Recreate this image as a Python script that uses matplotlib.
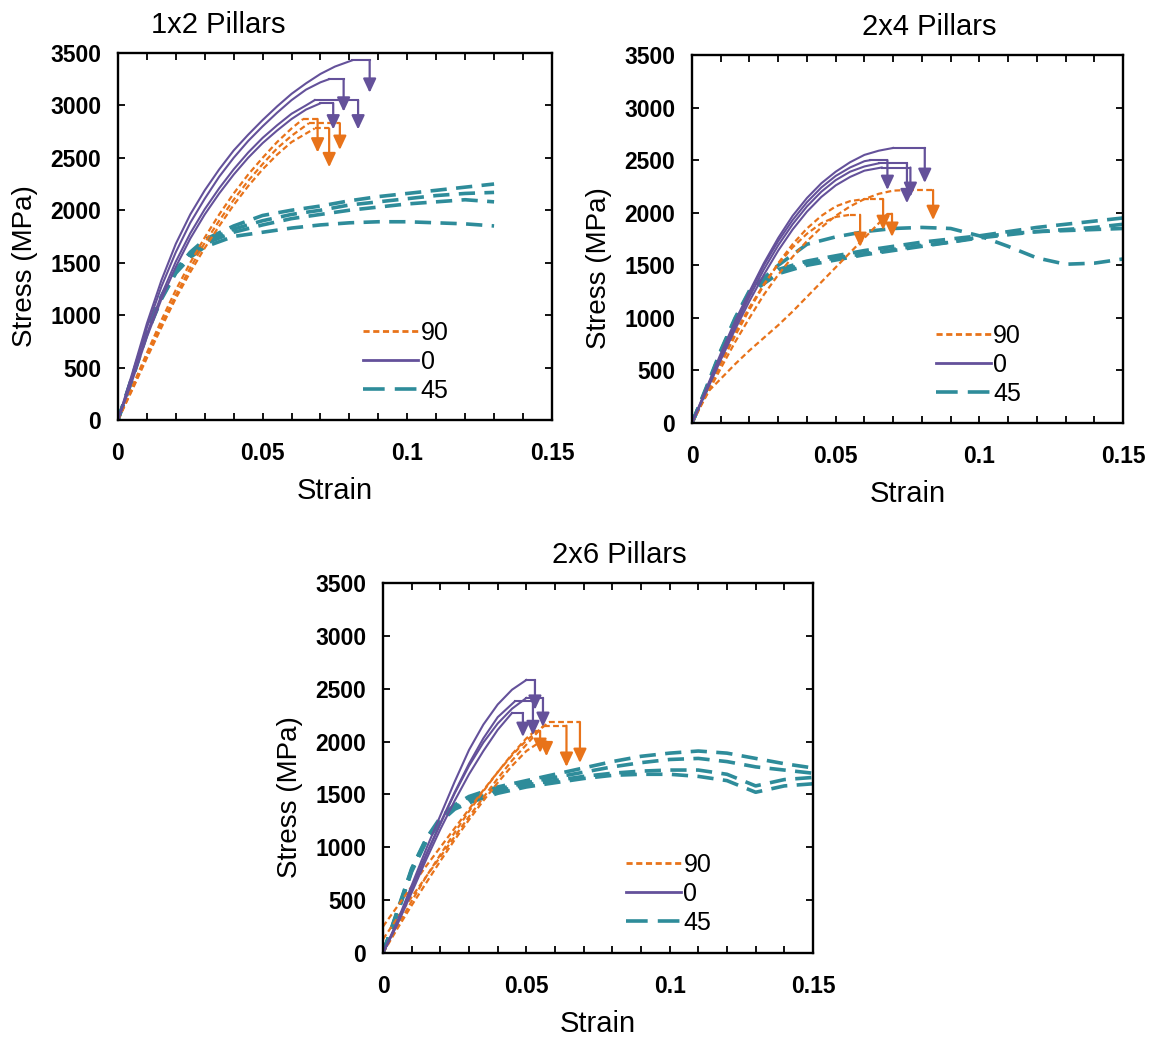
import matplotlib
matplotlib.use("Agg")
import matplotlib.pyplot as plt
from matplotlib.lines import Line2D

plt.rcParams['font.family'] = ['Liberation Sans', 'DejaVu Sans']

C90 = '#E8731A'
C0 = '#64519A'
C45 = '#2E8C9A'

# ---------------- 1x2 Pillars ----------------
# 0 deg (solid purple): strain, stress, then drop arrow (x, end stress)
p1_0a_x = [0, .005, .01, .015, .02, .025, .03, .035, .04, .045, .05, .055, .06, .065, .07, .075, .081]
p1_0a_y = [0, 450, 920, 1330, 1680, 1960, 2190, 2390, 2570, 2720, 2860, 2990, 3110, 3210, 3300, 3370, 3430]
p1_0b_x = [0, .005, .01, .015, .02, .025, .03, .035, .04, .045, .05, .055, .06, .065, .07, .073]
p1_0b_y = [0, 430, 880, 1270, 1600, 1880, 2110, 2320, 2500, 2660, 2800, 2930, 3050, 3150, 3220, 3250]
p1_0c_x = [0, .005, .01, .015, .02, .025, .03, .035, .04, .045, .05, .055, .06, .065, .068]
p1_0c_y = [0, 400, 820, 1190, 1510, 1780, 2010, 2210, 2390, 2550, 2690, 2810, 2920, 3000, 3050]
p1_0d_x = [0, .005, .01, .015, .02, .025, .03, .035, .04, .045, .05, .055, .06, .065, .07]
p1_0d_y = [0, 380, 790, 1150, 1460, 1730, 1960, 2160, 2340, 2500, 2640, 2760, 2870, 2960, 3020]
p1_0_drop_x = [.087, .078, .083, .0744]
p1_0_drop_y = [3120, 2940, 2770, 2770]

# 90 deg (short dash orange)
p1_90a_x = [0, .005, .01, .015, .02, .025, .03, .035, .04, .045, .05, .055, .06, .064]
p1_90a_y = [0, 320, 640, 950, 1240, 1500, 1740, 1960, 2160, 2340, 2500, 2650, 2780, 2870]
p1_90b_x = [0, .005, .01, .015, .02, .025, .03, .035, .04, .045, .05, .055, .06, .066]
p1_90b_y = [0, 300, 610, 910, 1190, 1450, 1690, 1900, 2100, 2280, 2440, 2590, 2710, 2830]
p1_90c_x = [0, .005, .01, .015, .02, .025, .03, .035, .04, .045, .05, .055, .06, .068]
p1_90c_y = [0, 290, 590, 880, 1160, 1410, 1640, 1850, 2050, 2230, 2390, 2530, 2650, 2780]
p1_90_drop_x = [.069, .0767, .073]
p1_90_drop_y = [2550, 2575, 2410]

# 45 deg (long dash teal)
p1_45_x = [0, .005, .01, .015, .02, .025, .03, .04, .05, .06, .07, .08, .09, .1, .11, .12, .13]
p1_45a_y = [0, 420, 850, 1180, 1430, 1600, 1720, 1850, 1950, 2000, 2040, 2090, 2130, 2160, 2190, 2220, 2250]
p1_45b_y = [0, 410, 840, 1170, 1420, 1590, 1700, 1820, 1900, 1960, 2000, 2050, 2080, 2110, 2140, 2160, 2170]
p1_45c_y = [0, 400, 830, 1160, 1410, 1570, 1680, 1790, 1860, 1920, 1960, 2000, 2030, 2060, 2080, 2100, 2080]
p1_45d_y = [0, 390, 820, 1150, 1400, 1550, 1650, 1750, 1790, 1830, 1860, 1880, 1890, 1890, 1880, 1870, 1850]

# ---------------- 2x4 Pillars ----------------
p2_0a_x = [0, .005, .01, .015, .02, .025, .03, .035, .04, .045, .05, .055, .06, .065, .07]
p2_0a_y = [0, 330, 660, 970, 1250, 1520, 1760, 1970, 2140, 2280, 2390, 2480, 2550, 2590, 2616]
p2_0b_x = [0, .005, .01, .015, .02, .025, .03, .035, .04, .045, .05, .055, .06, .062]
p2_0b_y = [0, 320, 640, 950, 1230, 1500, 1730, 1930, 2100, 2240, 2350, 2430, 2490, 2500]
p2_0c_x = [0, .005, .01, .015, .02, .025, .03, .035, .04, .045, .05, .055, .06, .065]
p2_0c_y = [0, 310, 620, 920, 1200, 1460, 1690, 1890, 2060, 2200, 2310, 2390, 2440, 2470]
p2_0d_x = [0, .005, .01, .015, .02, .025, .03, .035, .04, .045, .05, .055, .06, .066]
p2_0d_y = [0, 300, 600, 890, 1160, 1410, 1640, 1840, 2010, 2150, 2260, 2340, 2400, 2430]
p2_0_drop_x = [.081, .068, .0748, .076]
p2_0_drop_y = [2283, 2216, 2090, 2150]

p2_90a_x = [0, .005, .01, .015, .02, .025, .03, .035, .04, .045, .05, .055, .06, .065, .07, .075]
p2_90a_y = [0, 260, 520, 770, 1000, 1220, 1410, 1580, 1730, 1860, 1970, 2060, 2130, 2180, 2210, 2216]
p2_90b_x = [0, .005, .01, .015, .02, .025, .03, .035, .04, .045, .05, .055, .06, .062]
p2_90b_y = [0, 280, 560, 830, 1080, 1310, 1520, 1700, 1850, 1970, 2060, 2110, 2130, 2130]
p2_90c_x = [0, .003, .006, .01, .015, .02, .025, .03, .035, .04, .045, .05, .055, .06, .065, .068]
p2_90c_y = [0, 170, 310, 420, 560, 690, 810, 930, 1060, 1200, 1340, 1480, 1620, 1760, 1900, 1990]
p2_90d_x = [0, .005, .01, .015, .02, .025, .03, .035, .04, .045, .05, .055]
p2_90d_y = [0, 300, 590, 860, 1100, 1320, 1510, 1670, 1800, 1900, 1960, 1980]
p2_90_drop_x = [.0839, .0665, .0696, .0585]
p2_90_drop_y = [1930, 1835, 1770, 1674]

p2_45_x = [0, .005, .01, .015, .02, .03, .04, .05, .06, .07, .08, .09, .1, .11, .12, .13, .14, .15]
p2_45a_y = [0, 340, 690, 1000, 1260, 1500, 1700, 1770, 1820, 1850, 1860, 1850, 1780, 1680, 1570, 1510, 1520, 1560]
p2_45b_y = [0, 330, 680, 990, 1250, 1460, 1540, 1590, 1640, 1680, 1720, 1750, 1780, 1820, 1860, 1890, 1920, 1950]
p2_45c_y = [0, 320, 670, 980, 1240, 1440, 1520, 1570, 1610, 1650, 1690, 1720, 1760, 1790, 1820, 1840, 1860, 1890]
p2_45d_y = [0, 310, 660, 970, 1230, 1420, 1500, 1550, 1600, 1640, 1680, 1720, 1770, 1800, 1820, 1830, 1840, 1850]

# ---------------- 2x6 Pillars ----------------
p3_0a_x = [0, .005, .01, .015, .02, .025, .03, .035, .04, .045, .05]
p3_0a_y = [0, 300, 640, 980, 1300, 1620, 1920, 2160, 2350, 2490, 2582]
p3_0b_x = [0, .005, .01, .015, .02, .025, .03, .035, .04, .045, .05]
p3_0b_y = [0, 280, 600, 920, 1220, 1510, 1770, 1990, 2170, 2310, 2412]
p3_0c_x = [0, .005, .01, .015, .02, .025, .03, .035, .04, .046]
p3_0c_y = [0, 290, 610, 930, 1230, 1520, 1790, 2030, 2230, 2380]
p3_0d_x = [0, .005, .01, .015, .02, .025, .03, .035, .04, .045]
p3_0d_y = [0, 270, 570, 880, 1170, 1440, 1690, 1910, 2110, 2270]
p3_0_drop_x = [.053, .0558, .0523, .0488]
p3_0_drop_y = [2300, 2138, 2060, 2043]

p3_90a_x = [0, .005, .01, .015, .02, .025, .03, .035, .04, .045, .05, .055, .058]
p3_90a_y = [250, 440, 630, 820, 1000, 1180, 1360, 1540, 1710, 1870, 2010, 2120, 2185]
p3_90b_x = [0, .005, .01, .015, .02, .025, .03, .035, .04, .045, .05, .056]
p3_90b_y = [130, 330, 530, 720, 910, 1100, 1290, 1470, 1650, 1820, 1970, 2150]
p3_90c_x = [0, .005, .01, .015, .02, .025, .03, .035, .04, .045, .05, .053]
p3_90c_y = [0, 250, 490, 720, 930, 1140, 1340, 1530, 1710, 1880, 2030, 2100]
p3_90d_x = [0, .005, .01, .015, .02, .025, .03, .035, .04, .045, .05, .055]
p3_90d_y = [0, 230, 450, 660, 870, 1070, 1260, 1440, 1610, 1770, 1910, 2000]
p3_90_drop_x = [.0687, .064, .0548, .057]
p3_90_drop_y = [1797, 1760, 1892, 1860]

p3_45_x = [0, .005, .01, .015, .02, .025, .03, .04, .05, .06, .07, .08, .09, .1, .11, .12, .13, .14, .15]
p3_45a_y = [0, 400, 800, 1080, 1280, 1400, 1480, 1570, 1630, 1690, 1750, 1810, 1860, 1890, 1910, 1890, 1840, 1790, 1750]
p3_45b_y = [0, 390, 790, 1070, 1260, 1380, 1460, 1550, 1610, 1660, 1710, 1760, 1800, 1830, 1840, 1810, 1760, 1730, 1700]
p3_45c_y = [0, 380, 780, 1060, 1250, 1370, 1440, 1530, 1590, 1630, 1670, 1700, 1720, 1730, 1730, 1690, 1580, 1640, 1660]
p3_45d_y = [0, 370, 770, 1050, 1240, 1360, 1420, 1510, 1570, 1610, 1650, 1680, 1690, 1690, 1670, 1630, 1520, 1580, 1600]

y_ticks = [0, 500, 1000, 1500, 2000, 2500, 3000, 3500]
x_ticks = [0, 0.05, 0.1, 0.15]
x_labels = ['0', '0.05', '0.1', '0.15']
legend_labels = ['90', '0', '45']

STY0 = dict(color=C0, lw=1.5, ls='-')
STY90 = dict(color=C90, lw=1.6, ls=(0, (2.6, 1.5)))
STY45 = dict(color=C45, lw=2.6, ls=(0, (4.5, 2.6)))


def failing(ax, xs, ys, dx, dy, sty):
    # curve, flat run to the failure point, then a drop arrow
    ax.plot(xs, ys, **sty)
    ax.plot([xs[-1], dx], [ys[-1], ys[-1]], **sty)
    ax.annotate('', xy=(dx, dy), xytext=(dx, ys[-1]),
                arrowprops=dict(arrowstyle='-|>,head_length=0.6,head_width=0.28',
                                color=sty['color'], lw=1.6, mutation_scale=14,
                                shrinkA=0, shrinkB=0))


def setup(ax, title, title_x):
    ax.set_xlim(0, 0.15)
    ax.set_ylim(0, 3500)
    ax.set_yticks(y_ticks)
    ax.set_xticks(x_ticks)
    ax.set_xticklabels(x_labels)
    ax.set_xticks([i * 0.01 for i in range(16)], minor=True)
    ax.tick_params(which='both', direction='in', top=True, right=True,
                   length=5, width=1.3)
    ax.tick_params(axis='y', pad=12)
    ax.tick_params(axis='x', pad=16)
    for lab in ax.get_xticklabels() + ax.get_yticklabels():
        lab.set_fontweight('bold')
        lab.set_fontsize(16.5)
    for sp in ax.spines.values():
        sp.set_linewidth(1.7)
    ax.set_xlabel('Strain', fontsize=21)
    ax.xaxis.set_label_coords(0.5, -0.155)
    ax.set_ylabel('Stress (MPa)', fontsize=20)
    ax.yaxis.set_label_coords(-0.185, 0.42)
    ax.text(title_x, 1.076, title, transform=ax.transAxes, ha='center',
            va='center', fontsize=21)
    handles = [Line2D([], [], color=C90, lw=2.0, ls=(0, (2.2, 1.3))),
               Line2D([], [], color=C0, lw=2.0, ls='-'),
               Line2D([], [], color=C45, lw=2.6, ls=(0, (6.0, 2.8)))]
    ax.legend(handles, legend_labels, loc='upper left', bbox_to_anchor=(0.565, 0.27),
              frameon=False, fontsize=18, handlelength=2.2, handletextpad=0.1,
              labelspacing=0.2, borderpad=0, borderaxespad=0)


fig = plt.figure(figsize=(11.53, 10.4), dpi=100)
ax1 = fig.add_axes([0.1023, 0.5962, 0.3764, 0.3529])
ax2 = fig.add_axes([0.6002, 0.5933, 0.3738, 0.3538])
ax3 = fig.add_axes([0.3322, 0.0837, 0.3729, 0.3558])

# panel 1
for ys in [p1_45a_y, p1_45b_y, p1_45c_y, p1_45d_y]:
    ax1.plot(p1_45_x, ys, **STY45)
for (xs, ys), dx, dy in zip([(p1_90a_x, p1_90a_y), (p1_90b_x, p1_90b_y), (p1_90c_x, p1_90c_y)],
                            p1_90_drop_x, p1_90_drop_y):
    failing(ax1, xs, ys, dx, dy, STY90)
for (xs, ys), dx, dy in zip([(p1_0a_x, p1_0a_y), (p1_0b_x, p1_0b_y), (p1_0c_x, p1_0c_y), (p1_0d_x, p1_0d_y)],
                            p1_0_drop_x, p1_0_drop_y):
    failing(ax1, xs, ys, dx, dy, STY0)
setup(ax1, '1x2 Pillars', 0.23)

# panel 2
for ys in [p2_45a_y, p2_45b_y, p2_45c_y, p2_45d_y]:
    ax2.plot(p2_45_x, ys, **STY45)
for (xs, ys), dx, dy in zip([(p2_90a_x, p2_90a_y), (p2_90b_x, p2_90b_y), (p2_90c_x, p2_90c_y), (p2_90d_x, p2_90d_y)],
                            p2_90_drop_x, p2_90_drop_y):
    failing(ax2, xs, ys, dx, dy, STY90)
for (xs, ys), dx, dy in zip([(p2_0a_x, p2_0a_y), (p2_0b_x, p2_0b_y), (p2_0c_x, p2_0c_y), (p2_0d_x, p2_0d_y)],
                            p2_0_drop_x, p2_0_drop_y):
    failing(ax2, xs, ys, dx, dy, STY0)
setup(ax2, '2x4 Pillars', 0.55)

# panel 3
for ys in [p3_45a_y, p3_45b_y, p3_45c_y, p3_45d_y]:
    ax3.plot(p3_45_x, ys, **STY45)
for (xs, ys), dx, dy in zip([(p3_90a_x, p3_90a_y), (p3_90b_x, p3_90b_y), (p3_90c_x, p3_90c_y), (p3_90d_x, p3_90d_y)],
                            p3_90_drop_x, p3_90_drop_y):
    failing(ax3, xs, ys, dx, dy, STY90)
for (xs, ys), dx, dy in zip([(p3_0a_x, p3_0a_y), (p3_0b_x, p3_0b_y), (p3_0c_x, p3_0c_y), (p3_0d_x, p3_0d_y)],
                            p3_0_drop_x, p3_0_drop_y):
    failing(ax3, xs, ys, dx, dy, STY0)
setup(ax3, '2x6 Pillars', 0.55)

fig.savefig('out.png', dpi=100)
